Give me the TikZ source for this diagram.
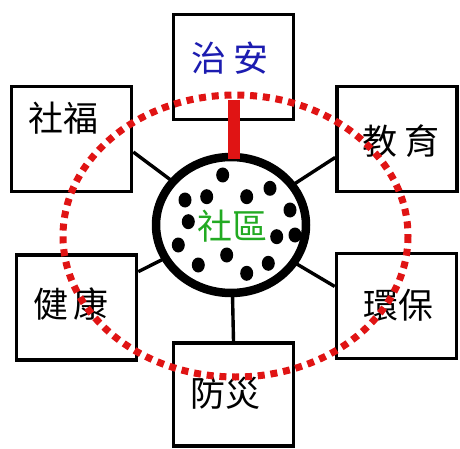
\documentclass[tikz,border=0pt]{standalone}
\usepackage{fontspec}
\newfontfamily\cjk{Noto Sans CJK TC}
\usetikzlibrary{calc}
\definecolor{zblue}{HTML}{1C1CB0}
\definecolor{sgreen}{HTML}{22AA22}
\definecolor{rred}{HTML}{E01414}
\tikzset{
  box/.style={draw=black, line width=3.6pt, fill=white, rectangle, minimum width=120pt, minimum height=105pt, inner sep=0pt},
  lbl/.style={font=\cjk\fontsize{35}{38}\selectfont, inner sep=0pt, text=black},
  conn/.style={draw=black, line width=3.4pt},
  dot/.style={fill=black, ellipse, minimum width=13pt, minimum height=15pt, inner sep=0pt, draw=none},
}
\usetikzlibrary{shapes.geometric}
\begin{document}
\begin{tikzpicture}[x=1pt,y=-1pt]
\useasboundingbox (0,0) rectangle (460,449);
% boxes
\node[box] (za) at (233.5,67) {};
\node[box] (sf) at (71.5,139) {};
\node[box] (jy) at (397,139) {};
\node[box] (jk) at (76.5,307.5) {};
\node[box] (hb) at (396.5,306) {};
\node[box, minimum height=103pt] (ff) at (233.5,394.5) {};
% centre
\coordinate (cc) at (231,225);
\coordinate (sfp) at ($(sf.north east)!0.62!(sf.south east)$);
\coordinate (jyp) at ($(jy.north west)!0.67!(jy.south west)$);
\coordinate (jkp) at ($(jk.north east)!0.17!(jk.south east)$);
\coordinate (hbp) at ($(hb.north west)!0.32!(hb.south west)$);
\draw[conn] (sfp) -- (cc);
\draw[conn] (jyp) -- (cc);
\draw[conn] (jkp) -- (cc);
\draw[conn] (hbp) -- (cc);
\draw[conn] (ff.north) -- (cc);
\node[draw=black, line width=8.5pt, fill=white, ellipse, minimum width=150pt, minimum height=136pt, inner sep=0pt] (sq) at (cc) {};
% red bar
\coordinate (rb1) at (234,100);
\coordinate (rb2) at (234,159);
\draw[rred, line width=12pt] (rb1) -- (rb2);
% dots
\foreach \p [count=\i] in {(222.7,175),(270,188.3),(246.7,196.7),(206.7,196.7),(185,200),(290,210),(188.3,221.7),(295,235),(276.7,236.7),(178.3,245),(226.7,255),(198.3,265),(268.3,263.3),(246.7,273.3)}
  \node[dot] (d\i) at \p {};
% labels
\node[lbl, text=zblue] (tza) at (230,58) {治\hspace{8pt}安};
\node[lbl] (tsf) at (63,118) {社福};
\node[lbl] (tjy) at (401,141) {教\hspace{8pt}育};
\node[lbl] (tjk) at (71,304) {健\hspace{6pt}康};
\node[lbl] (thb) at (398,305) {環保};
\node[lbl] (tff) at (225,393) {防災};
\node[lbl, text=sgreen] (tsq) at (232,226) {社區};
% red dotted ellipse
\draw[rred, line width=7pt, dash pattern=on 7pt off 5.8pt] (235.5,236) ellipse [x radius=172.5, y radius=141];
\end{tikzpicture}
\end{document}
